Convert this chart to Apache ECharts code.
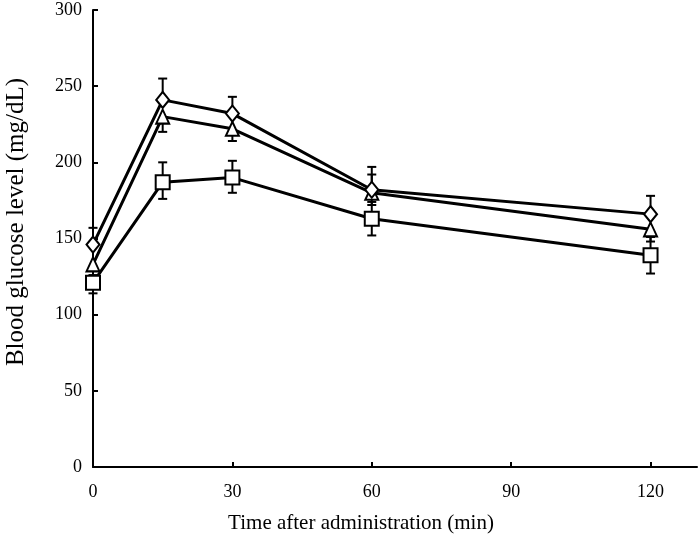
<!DOCTYPE html>
<html>
<head>
<meta charset="utf-8">
<script src="https://cdn.jsdelivr.net/npm/echarts@6/dist/echarts.min.js"></script>
<style>html,body{margin:0;padding:0;background:#fff}#c{width:700px;height:555px}</style>
</head>
<body>
<div id="c"></div>
<script>
var times = [0, 15, 30, 60, 120];
var xTicks = [0, 30, 60, 90, 120];
var yTicks = [0, 50, 100, 150, 200, 250, 300];
var xTitle = 'Time after administration (min)';
var yTitle = 'Blood glucose level (mg/dL)';

var diamondVals = [146, 241, 232, 182, 166];
var diamondErrUp = [11, 14, 11, 15, 12];
var diamondErrDown = [0, 0, 0, 0, 0];

var triangleVals = [133, 230, 222, 180, 156];
var triangleErrUp = [0, 0, 0, 12, 0];
var triangleErrDown = [7, 10, 8, 8, 8];

var squareVals = [121, 187, 190, 163, 139];
var squareErrUp = [8, 13, 11, 11, 12];
var squareErrDown = [7, 11, 10, 11, 12];

function pairs(vals) { return times.map(function (t, i) { return [t, vals[i]]; }); }
function errData(vals, up, down) {
  return times.map(function (t, i) { return [t, vals[i] - down[i], vals[i] + up[i], vals[i]]; });
}
function errSeries(vals, up, down) {
  return {
    type: 'custom',
    data: errData(vals, up, down),
    z: 1,
    silent: true,
    renderItem: function (params, api) {
      var x = api.value(0), lo = api.value(1), hi = api.value(2), mid = api.value(3);
      var pLo = api.coord([x, lo]), pHi = api.coord([x, hi]), pMid = api.coord([x, mid]);
      var w = 4.5;
      var st = { stroke: '#000', lineWidth: 2 };
      var ch = [];
      if (hi > mid) {
        ch.push({ type: 'line', shape: { x1: pMid[0], y1: pMid[1], x2: pHi[0], y2: pHi[1] }, style: st });
        ch.push({ type: 'line', shape: { x1: pHi[0] - w, y1: pHi[1], x2: pHi[0] + w, y2: pHi[1] }, style: st });
      }
      if (lo < mid) {
        ch.push({ type: 'line', shape: { x1: pMid[0], y1: pMid[1], x2: pLo[0], y2: pLo[1] }, style: st });
        ch.push({ type: 'line', shape: { x1: pLo[0] - w, y1: pLo[1], x2: pLo[0] + w, y2: pLo[1] }, style: st });
      }
      return { type: 'group', children: ch };
    }
  };
}
function lineSeries(vals, symbol, size) {
  return {
    type: 'line',
    data: pairs(vals),
    symbol: symbol,
    symbolSize: size,
    showAllSymbol: true,
    z: 3,
    lineStyle: { color: '#000', width: 3 },
    itemStyle: { color: '#fff', borderColor: '#000', borderWidth: 2 },
    emphasis: { disabled: true }
  };
}

var font = 'Liberation Serif, Times New Roman, serif';
var chart = echarts.init(document.getElementById('c'));
chart.setOption({
  animation: false,
  backgroundColor: '#fff',
  grid: { left: 93, top: 10, right: 3, bottom: 88, containLabel: false },
  xAxis: {
    type: 'value', min: 0, max: 130, interval: 30,
    axisLine: { lineStyle: { color: '#000', width: 2 } },
    axisTick: { inside: true, length: 5, lineStyle: { color: '#000', width: 2 }, customValues: xTicks },
    axisLabel: { fontFamily: font, fontSize: 18, color: '#000', margin: 16, customValues: xTicks },
    splitLine: { show: false }
  },
  yAxis: {
    type: 'value', min: 0, max: 300, interval: 50,
    axisLine: { show: true, lineStyle: { color: '#000', width: 2 } },
    axisTick: { show: true, inside: true, length: 5, lineStyle: { color: '#000', width: 2 }, customValues: yTicks },
    axisLabel: { fontFamily: font, fontSize: 18, color: '#000', margin: 11, customValues: yTicks },
    splitLine: { show: false }
  },
  graphic: [
    { type: 'text', x: 361, y: 523, style: { text: xTitle, fontFamily: font, fontSize: 21, fill: '#000', align: 'center', verticalAlign: 'middle' } },
    { type: 'text', x: 16, y: 222, rotation: Math.PI / 2, style: { text: yTitle, fontFamily: font, fontSize: 25, fill: '#000', align: 'center', verticalAlign: 'middle' } }
  ],
  series: [
    errSeries(diamondVals, diamondErrUp, diamondErrDown),
    errSeries(triangleVals, triangleErrUp, triangleErrDown),
    errSeries(squareVals, squareErrUp, squareErrDown),
    lineSeries(squareVals, 'rect', [14, 14]),
    lineSeries(triangleVals, 'triangle', [13, 14]),
    lineSeries(diamondVals, 'diamond', [13, 16])
  ]
});
</script>
</body>
</html>
